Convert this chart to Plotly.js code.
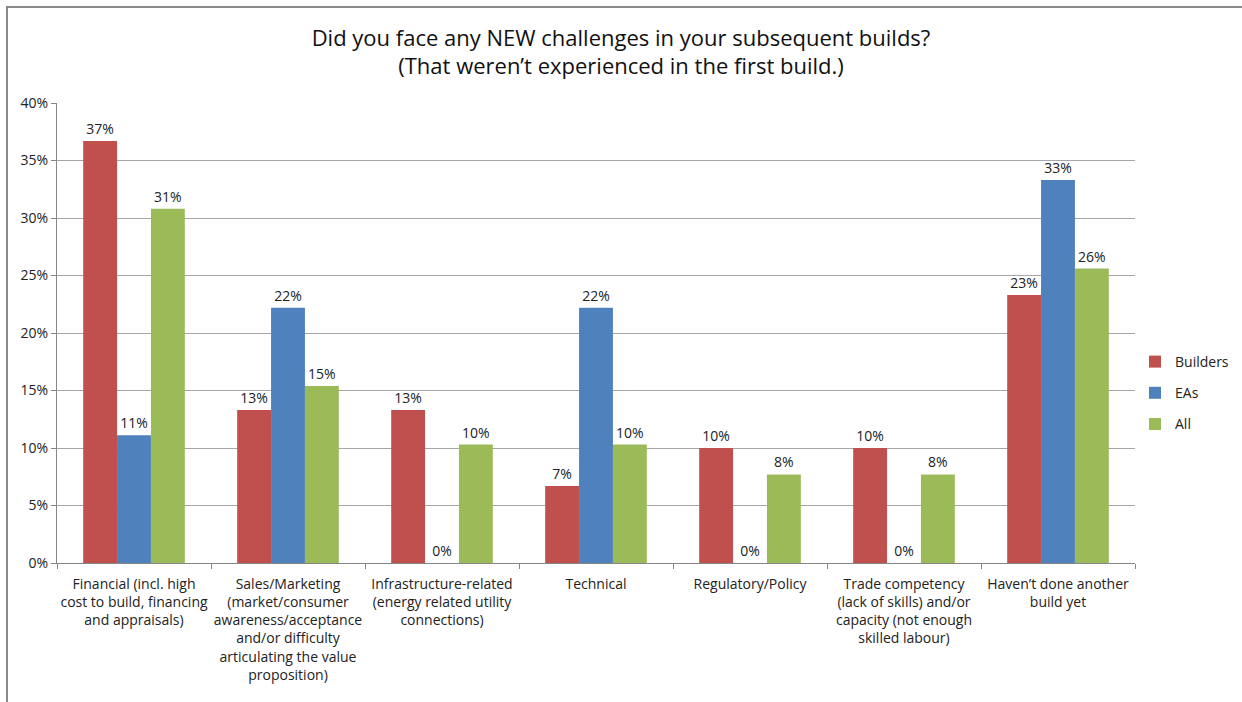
<!DOCTYPE html>
<html>
<head>
<meta charset="utf-8">
<script src="https://cdn.plot.ly/plotly-3.0.1.min.js"></script>
<style>
html,body{margin:0;padding:0;background:#fff;}
#frame{position:absolute;left:6px;top:6px;width:1236px;height:696px;border-left:2px solid #8a8a8a;border-top:2px solid #8a8a8a;box-sizing:border-box;pointer-events:none;}
#chart{position:absolute;left:0;top:0;width:1242px;height:702px;}
</style>
</head>
<body>
<div id="chart"></div>
<div id="frame"></div>
<script>
const categories = [
  "Financial (incl. high<br>cost to build, financing<br>and appraisals)",
  "Sales/Marketing<br>(market/consumer<br>awareness/acceptance<br>and/or difficulty<br>articulating the value<br>proposition)",
  "Infrastructure-related<br>(energy related utility<br>connections)",
  "Technical",
  "Regulatory/Policy",
  "Trade competency<br>(lack of skills) and/or<br>capacity (not enough<br>skilled labour)",
  "Haven’t done another<br>build yet"
];
const builders = [0.367, 0.133, 0.133, 0.067, 0.100, 0.100, 0.233];
const eas = [0.111, 0.222, 0.000, 0.222, 0.000, 0.000, 0.333];
const all = [0.308, 0.154, 0.103, 0.103, 0.077, 0.077, 0.256];
const yTicks = [0, 0.05, 0.10, 0.15, 0.20, 0.25, 0.30, 0.35, 0.40];

const font = "Open Sans, Liberation Sans, Arial, sans-serif";
function mk(name, vals, color){
  return {
    type: "bar", name: name, x: categories, y: vals,
    legendgroup: name,
    marker: {color: color},
    texttemplate: "%{y:.0%}", textposition: "outside",
    textfont: {family: font, size: 14, color: "#222"},
    cliponaxis: false, hoverinfo: "skip"
  };
}
const data = [
  mk("Builders", builders, "#C0504D"),
  mk("EAs", eas, "#4F81BD"),
  mk("All", all, "#9BBB59")
];
const layout = {
  width: 1242, height: 702,
  paper_bgcolor: "#fff", plot_bgcolor: "#fff",
  margin: {l: 57, r: 107, t: 103, b: 139},
  title: {
    text: "Did you face any NEW challenges in your subsequent builds?<br>(That weren’t experienced in the first build.)",
    font: {family: font, size: 22, color: "#111"},
    x: 0.5, xanchor: "center", xref: "container", yref: "container", y: 0.935, yanchor: "top"
  },
  barmode: "group", bargap: 0.34, bargroupgap: 0,
  showlegend: true,
  legend: {xref: "container", yref: "container", x: 1135/1242, xanchor: "left",
           y: 1 - 393/702, yanchor: "middle",
           font: {family: font, size: 14, color: "#222"},
           traceorder: "grouped",
           itemwidth: 30, tracegroupgap: 10, bgcolor: "rgba(0,0,0,0)"},
  xaxis: {
    type: "category", showline: true, linecolor: "#868686", linewidth: 1,
    ticks: "outside", tickson: "boundaries", ticklen: 5, tickcolor: "#868686",
    tickfont: {family: font, size: 14, color: "#222"},
    tickangle: 0, ticklabelstandoff: 8,
    showgrid: false, automargin: false, fixedrange: true
  },
  yaxis: {
    range: [0, 0.40], tickvals: yTicks, tickformat: ".0%",
    showline: true, linecolor: "#868686", linewidth: 1,
    ticks: "outside", ticklen: 5, tickcolor: "#868686",
    showgrid: true, gridcolor: "#a6a6a6", gridwidth: 1,
    zeroline: false,
    tickfont: {family: font, size: 14, color: "#222"},
    automargin: false, fixedrange: true
  }
};
Plotly.newPlot("chart", data, layout, {displayModeBar: false, staticPlot: true});
</script>
</body>
</html>
